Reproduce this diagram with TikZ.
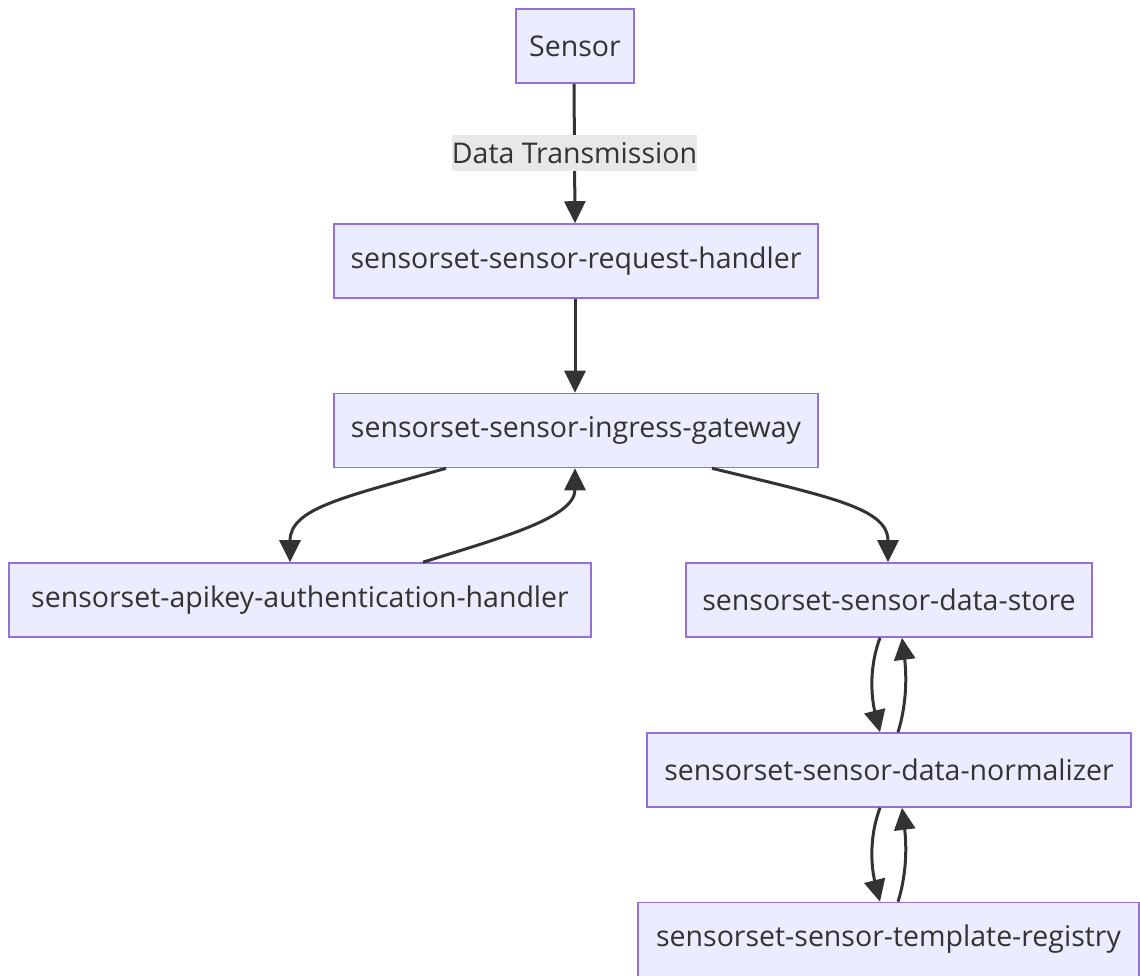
\documentclass[tikz,border=0pt]{standalone}
\usepackage{fontspec}
\setmainfont{Open Sans}
\usetikzlibrary{arrows.meta,calc}
\definecolor{boxfill}{HTML}{ECECFF}
\definecolor{boxline}{HTML}{9370DB}
\definecolor{edgecol}{HTML}{333333}
\definecolor{labelbg}{HTML}{E8E8E8}
\begin{document}
\begin{tikzpicture}[x=1pt,y=-1pt,
  box/.style={draw=boxline, fill=boxfill, line width=1.6pt, inner sep=0pt,
    text=edgecol, font=\fontsize{28.5}{32}\selectfont, minimum height=74pt},
  flow/.style={draw=edgecol, line width=3pt,
    -{Triangle[length=22pt,width=21pt]}},
  elabel/.style={fill=labelbg, text=edgecol, inner sep=0pt,
    font=\fontsize{28.5}{32}\selectfont, minimum width=243pt, minimum height=36pt}]
\useasboundingbox (0,0) rectangle (1140,976);
\fill[white] (0,0) rectangle (1140,976);

\node[box, minimum width=118pt] (sensor) at (575,46) {Sensor};
\node[box, minimum width=484pt] (req) at (576,261) {sensorset-sensor-request-handler};
\node[box, minimum width=484pt] (gw) at (576,430.5) {sensorset-sensor-ingress-gateway};
\node[box, minimum width=582pt] (auth) at (300,600) {sensorset-apikey-authentication-handler};
\node[box, minimum width=406pt] (store) at (889,600) {sensorset-sensor-data-store};
\node[box, minimum width=484pt] (norm) at (889,770) {sensorset-sensor-data-normalizer};
\node[box, minimum width=501pt] (reg) at (888.5,939.5) {sensorset-sensor-template-registry};

% Sensor to request handler, with its label
\draw[flow] ([xshift=-1pt]sensor.south) -- node[elabel] (tx) {Data Transmission} ([xshift=-1pt]req.north);
\draw[flow] ([xshift=-1pt]req.south) -- ([xshift=-1pt]gw.north);

% gateway <-> authentication handler
\draw[flow] ([xshift=-130pt]gw.south) .. controls (345,497) and (290,508) .. ([xshift=-10pt]auth.north);
\draw[flow] ([xshift=123pt]auth.north) .. controls (500,538) and (575,518) .. ([xshift=-1pt]gw.south);

% gateway to data store
\draw[flow] ([xshift=136pt]gw.south) .. controls (830,497) and (888,508) .. ([xshift=-1pt]store.north);

% data store <-> normalizer
\draw[flow] ([xshift=-9pt]store.south) .. controls (868,670) and (872,700) .. ([xshift=-9pt]norm.north);
\draw[flow] ([xshift=9pt]norm.north) .. controls (908,700) and (906,670) .. ([xshift=13pt]store.south);

% normalizer <-> template registry
\draw[flow] ([xshift=-9pt]norm.south) .. controls (868,840) and (872,870) .. ([xshift=-8.5pt]reg.north);
\draw[flow] ([xshift=9.5pt]reg.north) .. controls (908,870) and (906,840) .. ([xshift=13pt]norm.south);
\end{tikzpicture}
\end{document}
